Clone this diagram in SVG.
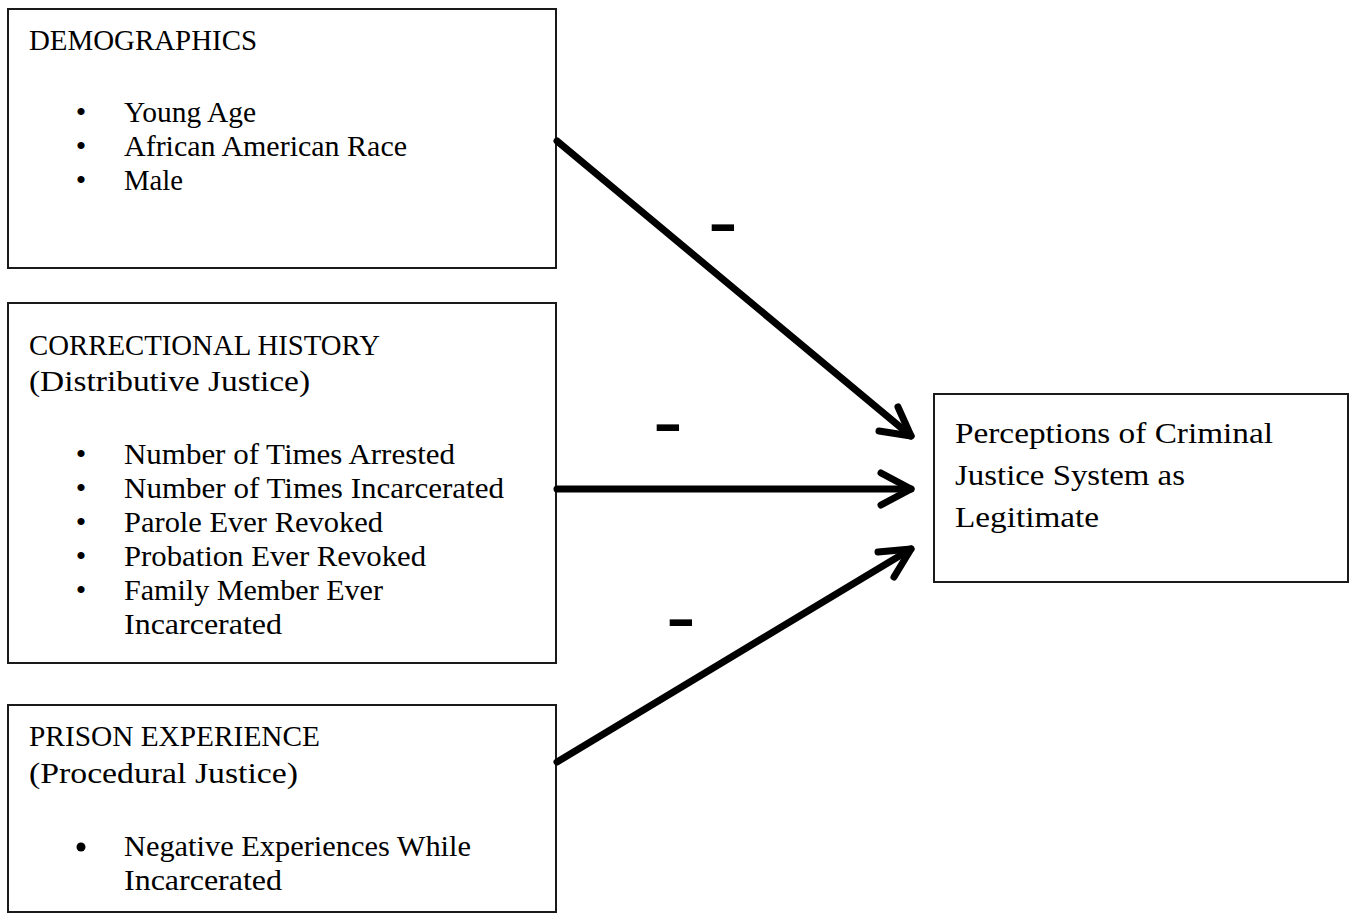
<svg xmlns="http://www.w3.org/2000/svg" width="1353" height="914" viewBox="0 0 1353 914">
<defs>
<style>
.box{fill:#fff;stroke:#1a1a1a;stroke-width:2}
.t{font-family:"Liberation Serif","Times New Roman",serif;font-size:30px;fill:#000}
.b{font-family:"Liberation Serif","Times New Roman",serif;font-size:30px;fill:#000;text-anchor:middle}
.c{fill:none;stroke:#000;stroke-width:7;stroke-linecap:round;stroke-linejoin:round}
.m{font-family:"Liberation Sans",Arial,sans-serif;font-weight:bold;font-size:55px;fill:#000;text-anchor:middle}
</style>
</defs>
<rect x="0" y="0" width="1353" height="914" fill="#fff"/>
<g id="demographics">
<rect class="box" x="8" y="9" width="548" height="259"/>
<text class="t" x="29" y="50" textLength="228" lengthAdjust="spacingAndGlyphs">DEMOGRAPHICS</text>
<text class="b" x="81" y="122">•</text>
<text class="t" x="124" y="122" textLength="132" lengthAdjust="spacingAndGlyphs">Young Age</text>
<text class="b" x="81" y="156">•</text>
<text class="t" x="124" y="156" textLength="283" lengthAdjust="spacingAndGlyphs">African American Race</text>
<text class="b" x="81" y="190">•</text>
<text class="t" x="124" y="190" textLength="59" lengthAdjust="spacingAndGlyphs">Male</text>
</g>
<g id="correctional-history">
<rect class="box" x="8" y="303" width="548" height="360"/>
<text class="t" x="29" y="355" textLength="351" lengthAdjust="spacingAndGlyphs">CORRECTIONAL HISTORY</text>
<text class="t" x="29" y="391" textLength="281" lengthAdjust="spacingAndGlyphs">(Distributive Justice)</text>
<text class="b" x="81" y="464">•</text>
<text class="t" x="124" y="464" textLength="331" lengthAdjust="spacingAndGlyphs">Number of Times Arrested</text>
<text class="b" x="81" y="498">•</text>
<text class="t" x="124" y="498" textLength="380" lengthAdjust="spacingAndGlyphs">Number of Times Incarcerated</text>
<text class="b" x="81" y="532">•</text>
<text class="t" x="124" y="532" textLength="259" lengthAdjust="spacingAndGlyphs">Parole Ever Revoked</text>
<text class="b" x="81" y="566">•</text>
<text class="t" x="124" y="566" textLength="302" lengthAdjust="spacingAndGlyphs">Probation Ever Revoked</text>
<text class="b" x="81" y="600">•</text>
<text class="t" x="124" y="600" textLength="259" lengthAdjust="spacingAndGlyphs">Family Member Ever</text>
<text class="t" x="124" y="634" textLength="158" lengthAdjust="spacingAndGlyphs">Incarcerated</text>
</g>
<g id="prison-experience">
<rect class="box" x="8" y="705" width="548" height="207"/>
<text class="t" x="29" y="746" textLength="291" lengthAdjust="spacingAndGlyphs">PRISON EXPERIENCE</text>
<text class="t" x="29" y="783" textLength="269" lengthAdjust="spacingAndGlyphs">(Procedural Justice)</text>
<circle cx="81" cy="847" r="4.5" fill="#000"/>
<text class="t" x="124" y="856" textLength="347" lengthAdjust="spacingAndGlyphs">Negative Experiences While</text>
<text class="t" x="124" y="890" textLength="158" lengthAdjust="spacingAndGlyphs">Incarcerated</text>
</g>
<g id="legitimacy">
<rect class="box" x="934" y="394" width="414" height="188"/>
<text class="t" x="955" y="443" textLength="318" lengthAdjust="spacingAndGlyphs">Perceptions of Criminal</text>
<text class="t" x="955" y="485" textLength="230" lengthAdjust="spacingAndGlyphs">Justice System as</text>
<text class="t" x="955" y="527" textLength="144" lengthAdjust="spacingAndGlyphs">Legitimate</text>
</g>
<g id="connectors">
<line class="c" x1="557" y1="141" x2="911" y2="436"/>
<polyline class="c" points="898,407 911,436 879,431"/>
<line class="c" x1="557" y1="489" x2="911" y2="489"/>
<polyline class="c" points="881,473 911,489 881,505"/>
<line class="c" x1="557" y1="762" x2="911" y2="549"/>
<polyline class="c" points="878,552 911,549 894,577"/>
<text class="m" transform="translate(723,242) scale(1.6,1)">-</text>
<text class="m" transform="translate(668,442) scale(1.6,1)">-</text>
<text class="m" transform="translate(681,637) scale(1.6,1)">-</text>
</g>
</svg>
